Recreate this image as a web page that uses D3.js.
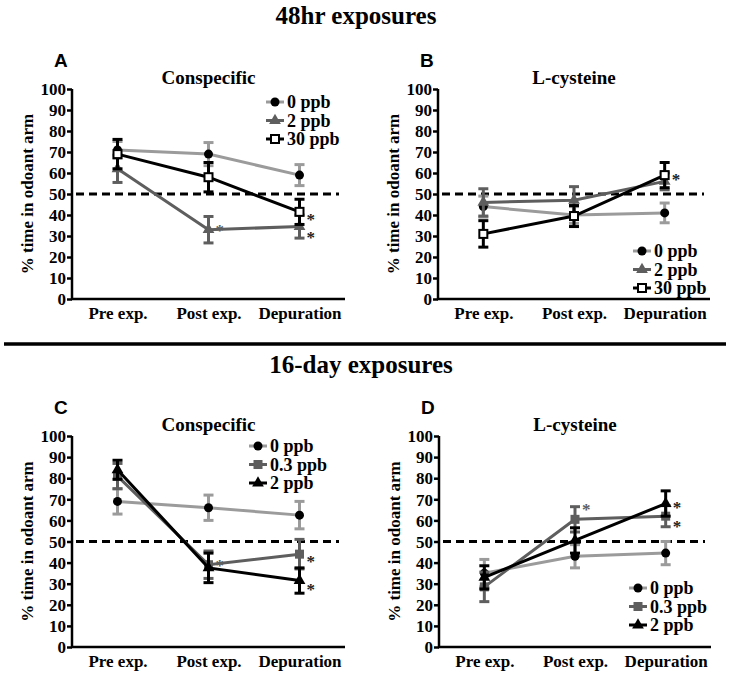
<!DOCTYPE html>
<html><head><meta charset="utf-8">
<script src="https://cdn.jsdelivr.net/npm/d3@7"></script>
<style>body{margin:0;background:#fff}svg{display:block}</style>
</head><body>
<script>
// ---------- DATA ----------
const categories = ["Pre exp.", "Post exp.", "Depuration"];
const yTicks = [0,10,20,30,40,50,60,70,80,90,100];
const refLine = 50;

// Panel A: 48hr, Conspecific
const A_labels = ["0 ppb", "2 ppb", "30 ppb"];
const A_0ppb = [71, 69, 59],    A_0ppb_err = [4, 5.5, 5];
const A_2ppb = [62, 33, 34.5],  A_2ppb_err = [6.5, 6.3, 5.5];
const A_30ppb = [69, 58, 41.5], A_30ppb_err = [7, 7, 6];
const A_sig = [[0,0,0],[0,1,1],[0,0,1]];

// Panel B: 48hr, L-cysteine
const B_labels = ["0 ppb", "2 ppb", "30 ppb"];
const B_0ppb = [44, 40, 41],    B_0ppb_err = [5, 4, 4.7];
const B_2ppb = [46, 47, 56],    B_2ppb_err = [6.5, 6.5, 4];
const B_30ppb = [31, 39.5, 59], B_30ppb_err = [6.3, 5, 6];
const B_sig = [[0,0,0],[0,0,0],[0,0,1]];

// Panel C: 16-day, Conspecific
const C_labels = ["0 ppb", "0.3 ppb", "2 ppb"];
const C_0ppb = [69, 66, 62.5],  C_0ppb_err = [6, 6, 6.5];
const C_03ppb = [81, 39, 44],   C_03ppb_err = [6, 6.5, 7];
const C_2ppb = [84, 37.5, 31.5],C_2ppb_err = [4.5, 7, 6];
const C_sig = [[0,0,0],[0,1,1],[0,0,1]];

// Panel D: 16-day, L-cysteine
const D_labels = ["0 ppb", "0.3 ppb", "2 ppb"];
const D_0ppb = [35, 43, 44.5],  D_0ppb_err = [6.5, 5.5, 5.5];
const D_03ppb = [28.5, 60.5, 62], D_03ppb_err = [7, 6, 5];
const D_2ppb = [33, 50.5, 68],  D_2ppb_err = [5.5, 6, 6];
const D_sig = [[0,0,0],[0,1,1],[0,0,1]];

// ---------- STYLE ----------
const LIGHT = "#9b9b9b", DARK = "#5e5e5e", BLACK = "#000";
const SERIF = '"Liberation Serif"', SANS = '"Liberation Sans"';
function serifText(sel, size) {
  return sel.style("font-family", SERIF).style("font-weight", "bold").style("font-size", size + "px");
}

const W = 730, H = 675;
const svg = d3.select("body").append("svg").attr("width", W).attr("height", H);

// Section titles and separator
serifText(svg.append("text"), 25).attr("x", 356).attr("y", 24).attr("text-anchor","middle").text("48hr exposures");
svg.append("line").attr("x1", 4).attr("x2", 726).attr("y1", 344).attr("y2", 344)
  .attr("stroke","#000").attr("stroke-width",3.5);
serifText(svg.append("text"), 25).attr("x", 361).attr("y", 373).attr("text-anchor","middle").text("16-day exposures");

const panels = [
  {letter:"A", title:"Conspecific", left:72, right:345, top:89, bottom:299,
   labels:A_labels, vals:[A_0ppb,A_2ppb,A_30ppb], errs:[A_0ppb_err,A_2ppb_err,A_30ppb_err], sig:A_sig,
   sigDy:[[0,0,0],[0,-3,7],[0,0,4]],
   markers:["circle","triangle","opensquare"], colors:[LIGHT,DARK,BLACK], legend:{x:275, y:102}},
  {letter:"B", title:"L-cysteine", left:438, right:710, top:89, bottom:299,
   labels:B_labels, vals:[B_0ppb,B_2ppb,B_30ppb], errs:[B_0ppb_err,B_2ppb_err,B_30ppb_err], sig:B_sig,
   sigDy:[[0,0,0],[0,0,0],[0,0,1]],
   markers:["circle","triangle","opensquare"], colors:[LIGHT,DARK,BLACK], legend:{x:642, y:251}},
  {letter:"C", title:"Conspecific", left:72, right:345, top:436, bottom:647,
   labels:C_labels, vals:[C_0ppb,C_03ppb,C_2ppb], errs:[C_0ppb_err,C_03ppb_err,C_2ppb_err], sig:C_sig,
   sigDy:[[0,0,0],[0,-3,4],[0,0,5]],
   markers:["circle","square","triangle"], colors:[LIGHT,DARK,BLACK], legend:{x:258, y:446}},
  {letter:"D", title:"L-cysteine", left:439, right:711, top:436, bottom:647,
   labels:D_labels, vals:[D_0ppb,D_03ppb,D_2ppb], errs:[D_0ppb_err,D_03ppb_err,D_2ppb_err], sig:D_sig,
   sigDy:[[0,0,0],[0,-13,7],[0,0,0]],
   markers:["circle","square","triangle"], colors:[LIGHT,DARK,BLACK], legend:{x:638, y:588}}
];

function drawMarker(g, type, x, y, color) {
  if (type === "circle") {
    g.append("circle").attr("cx",x).attr("cy",y).attr("r",4.5).attr("fill","#000");
  } else if (type === "triangle") {
    g.append("path").attr("d", d3.symbol(d3.symbolTriangle, 60)()).attr("transform",`translate(${x},${y})`).attr("fill", color);
  } else if (type === "square") {
    g.append("rect").attr("x",x-4.5).attr("y",y-4.5).attr("width",9).attr("height",9).attr("fill", color);
  } else if (type === "opensquare") {
    g.append("rect").attr("x",x-4).attr("y",y-4).attr("width",8).attr("height",8).attr("fill","#fff").attr("stroke",color).attr("stroke-width",2);
  }
}

panels.forEach(p => {
  const g = svg.append("g");
  const x = d3.scalePoint().domain(categories).range([p.left, p.right]).padding(0.5);
  const y = d3.scaleLinear().domain([0,100]).range([p.bottom, p.top]);

  // panel letter & title
  g.append("text").attr("x", p.left-18).attr("y", p.top-22)
    .style("font-family", SANS).style("font-weight","bold").style("font-size","19px").text(p.letter);
  serifText(g.append("text"), 19).attr("x", x(categories[1])).attr("y", p.top-5).attr("text-anchor","middle").text(p.title);

  // y axis
  const yAxis = d3.axisLeft(y).tickValues(yTicks).tickSize(5).tickPadding(1);
  const ya = g.append("g").attr("transform",`translate(${p.left},0)`).call(yAxis);
  ya.select(".domain").attr("stroke","#000").attr("stroke-width",2.5).attr("d", `M0,${p.top}V${p.bottom}`);
  ya.selectAll(".tick line").attr("stroke","#000").attr("stroke-width",2.5);
  serifText(ya.selectAll(".tick text"), 17).attr("fill","#000").attr("dy","0.34em");

  // x axis
  const xAxis = d3.axisBottom(x).tickSize(0).tickPadding(8);
  const xa = g.append("g").attr("transform",`translate(0,${p.bottom})`).call(xAxis);
  xa.select(".domain").attr("stroke","#000").attr("stroke-width",2.5).attr("d", `M${p.left-1},0H${p.right}`);
  serifText(xa.selectAll(".tick text"), 17).attr("fill","#000");

  // y label
  serifText(g.append("text"), 17).attr("transform",`translate(${p.left-39},${(p.top+p.bottom)/2}) rotate(-90)`)
    .attr("text-anchor","middle").text("% time in odoant arm");

  // reference line
  g.append("line").attr("x1", p.left+4).attr("x2", p.right-6).attr("y1", y(refLine)).attr("y2", y(refLine))
    .attr("stroke","#000").attr("stroke-width",3).attr("stroke-dasharray","8,5");

  // series
  const line = d3.line().x((d,i)=>x(categories[i])).y(d=>y(d));
  p.vals.forEach((vals, s) => {
    const color = p.colors[s];
    const sg = g.append("g");
    sg.append("path").datum(vals).attr("d", line).attr("fill","none").attr("stroke", color).attr("stroke-width",3);
    vals.forEach((v,i) => {
      const cx = x(categories[i]), e = p.errs[s][i];
      sg.append("line").attr("x1",cx).attr("x2",cx).attr("y1",y(v-e)).attr("y2",y(v+e)).attr("stroke",color).attr("stroke-width",3);
      [v-e, v+e].forEach(c => sg.append("line").attr("x1",cx-5).attr("x2",cx+5).attr("y1",y(c)).attr("y2",y(c))
        .attr("stroke",color).attr("stroke-width",3));
    });
    vals.forEach((v,i) => drawMarker(sg, p.markers[s], x(categories[i]), y(v), color));
    vals.forEach((v,i) => {
      if (p.sig[s][i]) serifText(sg.append("text"), 17).attr("x", x(categories[i])+7).attr("y", y(v)+9+p.sigDy[s][i])
        .attr("fill", (s===1 && i===1) ? color : "#222").text("*");
    });
  });

  // legend
  p.labels.forEach((lab, s) => {
    const ly = p.legend.y + s*18.5;
    const lg = g.append("g");
    lg.append("line").attr("x1", p.legend.x-9).attr("x2", p.legend.x+9).attr("y1", ly).attr("y2", ly)
      .attr("stroke", p.colors[s]).attr("stroke-width",3);
    drawMarker(lg, p.markers[s], p.legend.x, ly, p.colors[s]);
    serifText(lg.append("text"), 18).attr("x", p.legend.x+12).attr("y", ly+6).text(lab);
  });
});
</script>
</body></html>
